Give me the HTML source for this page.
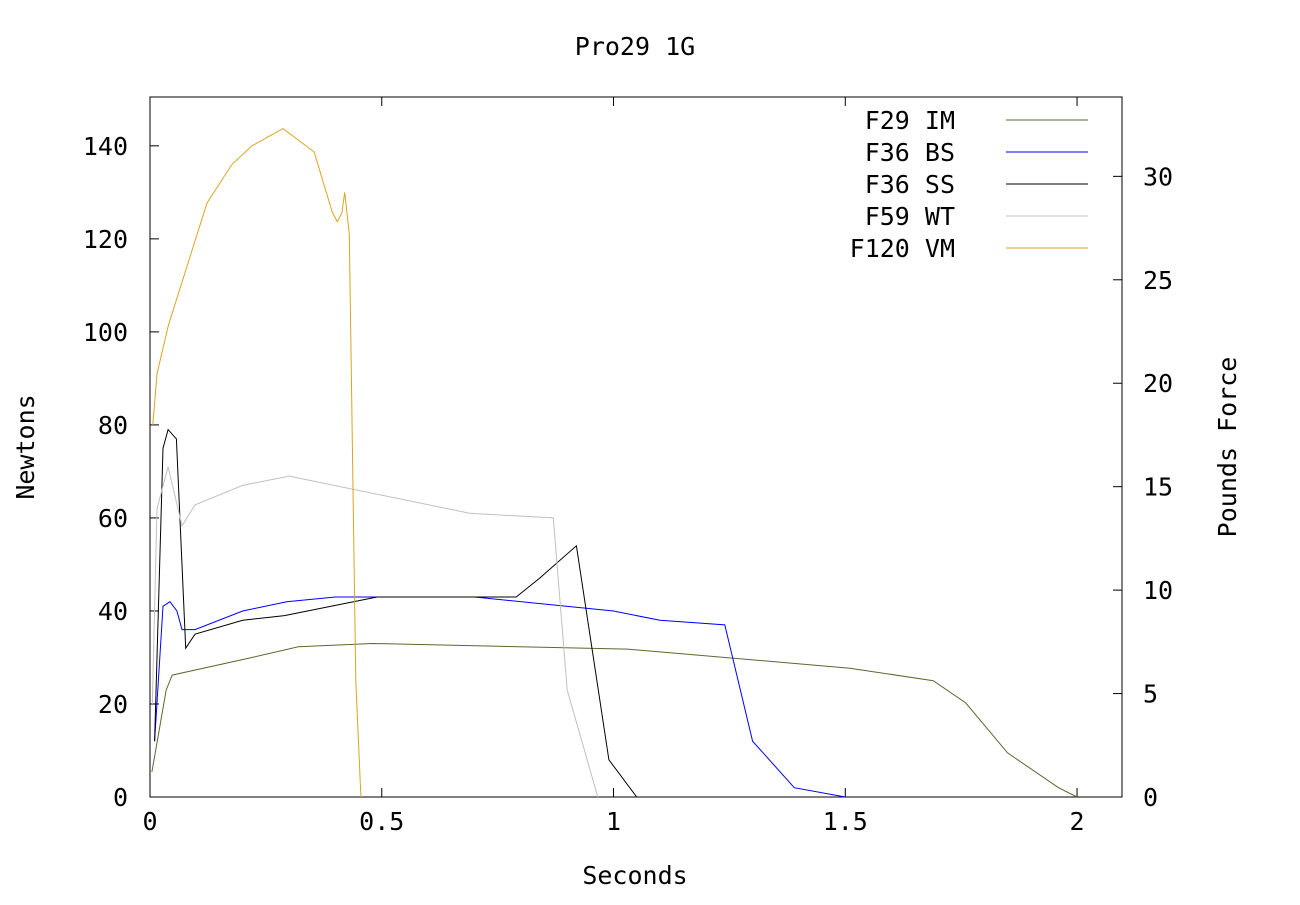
<!DOCTYPE html>
<html><head><meta charset="utf-8"><style>
html,body{margin:0;padding:0;background:#fff}
svg text{font-family:"DejaVu Sans Mono","Liberation Mono",monospace;font-size:25px;fill:#000}
</style></head><body>
<svg id="chart" width="1300" height="900" xmlns="http://www.w3.org/2000/svg">
<rect width="1300" height="900" fill="#fff"/>
<text x="635" y="55" text-anchor="middle">Pro29 1G</text>
<rect x="150" y="97" width="972" height="700" fill="none" stroke="#000" stroke-width="1"/>
<g id="ticks"></g>
<g id="series"></g>
<text x="635" y="884" text-anchor="middle">Seconds</text>
<text transform="translate(34,447) rotate(-90)" text-anchor="middle">Newtons</text>
<text transform="translate(1236,447) rotate(-90)" text-anchor="middle">Pounds Force</text>
<g id="legend"></g>
</svg>
<script>
const seriesNames=["F29 IM","F36 BS","F36 SS","F59 WT","F120 VM"];
const seriesColors=["#556b2f","#0000ff","#000000","#c0c0c0","#daa520"];
const f29t=[0.004,0.035,0.048,0.22,0.32,0.48,1.03,1.51,1.69,1.76,1.85,1.96,2.0];
const f29v=[5.4,23,26.2,30,32.3,33,31.8,27.7,25,20.2,9.5,2,0];
const bsT=[0.01,0.028,0.043,0.058,0.069,0.077,0.097,0.2,0.295,0.4,0.7,0.85,1.0,1.1,1.24,1.3,1.39,1.5];
const bsV=[12,41,42,40,36,36,36,40,42,43,43,41.5,40,38,37,12,2,0];
const ssT=[0.01,0.028,0.039,0.057,0.077,0.097,0.2,0.29,0.49,0.79,0.84,0.92,0.99,1.05];
const ssV=[12,75,79,77,32,35,38,39,43,43,47,54,8,0];
const wtT=[0.005,0.015,0.039,0.069,0.097,0.2,0.3,0.69,0.87,0.9,0.966];
const wtV=[20,62,71,58.3,62.8,67,69,61,60,23,0];
const vmT=[0.006,0.015,0.04,0.123,0.177,0.22,0.287,0.354,0.393,0.404,0.414,0.42,0.43,0.444,0.455];
const vmV=[80,91,101.5,127.7,136,140,143.7,138.7,125.8,123.7,125.6,130,121,25,0];
const xTicks=[0,0.5,1,1.5,2];
const xTickLabels=["0","0.5","1","1.5","2"];
const yTicks=[0,20,40,60,80,100,120,140];
const y2Ticks=[0,5,10,15,20,25,30];
const allT=[f29t,bsT,ssT,wtT,vmT];
const allV=[f29v,bsV,ssV,wtV,vmV];

const L=150,R=1122,T=97,B=797,XMAX=2.097,YMAX=150.5,LBF=4.448;
const sx=t=>L+t/XMAX*(R-L);
const sy=v=>B-v/YMAX*(B-T);
const NS="http://www.w3.org/2000/svg";
function mk(tag,attrs,parent){const e=document.createElementNS(NS,tag);for(const k in attrs)e.setAttribute(k,attrs[k]);parent.appendChild(e);return e;}
const tg=document.getElementById('ticks');
xTicks.forEach((t,i)=>{const x=sx(t);
 let l=mk('path',{d:`M${x},${B}v-9M${x},${T}v9`,stroke:'#000',fill:'none'},tg);
 
 
 let tx=mk('text',{x:x,y:B+33,'text-anchor':'middle'},tg);tx.textContent=xTickLabels[i];
 
 
});
yTicks.forEach(v=>{const y=sy(v);
 let l=mk('path',{d:`M${L},${y}h9`,stroke:'#000',fill:'none'},tg);
 
 
 let tx=mk('text',{x:128,y:y+9,'text-anchor':'end'},tg);tx.textContent=String(v);
 
 
});
y2Ticks.forEach(v=>{const y=sy(v*LBF);
 let l=mk('path',{d:`M${R},${y}h-9`,stroke:'#000',fill:'none'},tg);
 
 
 let tx=mk('text',{x:1143,y:y+9,'text-anchor':'start'},tg);tx.textContent=String(v);
 
 
});
const sg=document.getElementById('series');
allT.forEach((ts,i)=>{
 const d=ts.map((t,j)=>(j?'L':'M')+sx(t).toFixed(1)+','+sy(allV[i][j]).toFixed(1)).join('');
 const p=mk('path',{d:d,stroke:seriesColors[i],fill:'none','stroke-width':1},sg);
 
 
});
const lg=document.getElementById('legend');
seriesNames.forEach((n,i)=>{const y=120+i*32;
 const tx=mk('text',{x:955,y:y+9,'text-anchor':'end'},lg);tx.textContent=n;
 
 
 const l=mk('path',{d:`M1006,${y}H1088`,stroke:seriesColors[i],fill:'none'},lg);
 
 
});
</script>
</body></html>
